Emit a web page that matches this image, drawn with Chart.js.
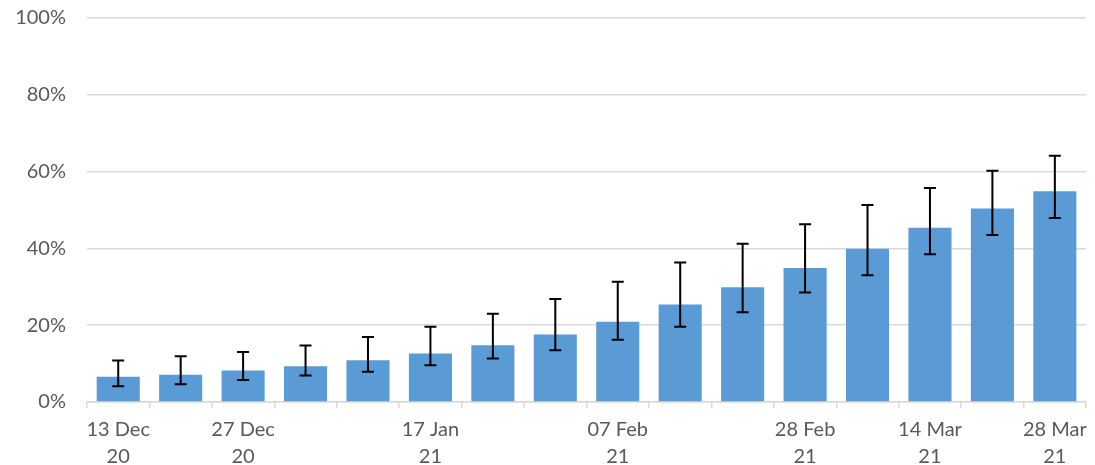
<!DOCTYPE html>
<html lang="en">
<head>
    <meta charset="UTF-8">
    <title>Weekly share</title>
    <script src="https://cdn.jsdelivr.net/npm/chart.js"></script>
    <style>
        html, body { margin: 0; padding: 0; background: #fff; }
        .grafico { width: 1095px; height: 465px; }
    </style>
</head>
<body>
    <div class="grafico">
        <canvas id="myChart" width="1095" height="465"></canvas>
    </div>

<script>
    // weeks (week ending) - only some get a label on the axis
    var semanas = ['13 Dec 20', '20 Dec 20', '27 Dec 20', '03 Jan 21', '10 Jan 21', '17 Jan 21', '24 Jan 21', '31 Jan 21',
        '07 Feb 21', '14 Feb 21', '21 Feb 21', '28 Feb 21', '07 Mar 21', '14 Mar 21', '21 Mar 21', '28 Mar 21'];
    var mostrarRotulo = [0, 2, 5, 8, 11, 13, 15];

    // estimate (%) and 95% interval
    var valores = [6.6, 7.1, 8.2, 9.3, 10.9, 12.6, 14.8, 17.6, 20.9, 25.4, 29.9, 34.9, 39.9, 45.4, 50.4, 54.9];
    var limiteInf = [4.1, 4.6, 5.7, 6.9, 7.9, 9.6, 11.3, 13.5, 16.2, 19.6, 23.4, 28.5, 33.0, 38.5, 43.5, 47.9];
    var limiteSup = [10.8, 11.9, 13.0, 14.7, 16.9, 19.6, 23.0, 26.8, 31.3, 36.3, 41.2, 46.3, 51.3, 55.7, 60.2, 64.1];

    var corTexto = '#595959';
    var corGrade = '#d9d9d9';

    // draws the error bars with the y scale
    const barrasErro = {
        id: 'barrasErro',
        afterDatasetsDraw(chart) {
            const ctx = chart.ctx;
            const y = chart.scales.y;
            const meta = chart.getDatasetMeta(0);
            ctx.save();
            ctx.strokeStyle = '#000';
            ctx.lineWidth = 2;
            meta.data.forEach(function (bar, i) {
                var x = bar.x;
                var yTop = y.getPixelForValue(limiteSup[i]);
                var yBot = y.getPixelForValue(limiteInf[i]);
                ctx.beginPath();
                ctx.moveTo(x, yTop);
                ctx.lineTo(x, yBot);
                ctx.moveTo(x - 6, yTop);
                ctx.lineTo(x + 6, yTop);
                ctx.moveTo(x - 6, yBot);
                ctx.lineTo(x + 6, yBot);
                ctx.stroke();
            });
            ctx.restore();
        }
    };

    let dados = {
        labels: semanas,
        datasets: [{
            data: valores,
            backgroundColor: '#5b9bd5',
            borderWidth: 0,
            barPercentage: 0.69,
            categoryPercentage: 1
        }]
    };

    const config = {
        type: 'bar',
        data: dados,
        plugins: [barrasErro],
        options: {
            responsive: false,
            animation: false,
            layout: { padding: { top: 18, right: 8, left: 0, bottom: 0 } },
            plugins: {
                legend: { display: false },
                tooltip: { enabled: false }
            },
            scales: {
                x: {
                    afterFit: function (scale) { scale.height = 63; },
                    grid: {
                        offset: true,
                        drawOnChartArea: false,
                        drawTicks: true,
                        tickLength: 6,
                        color: corGrade,
                        lineWidth: 1.5
                    },
                    border: { color: corGrade, width: 1.5 },
                    ticks: {
                        autoSkip: false,
                        maxRotation: 0,
                        minRotation: 0,
                        padding: 8,
                        color: corTexto,
                        font: { family: 'Lato', size: 20, lineHeight: 1.35 },
                        callback: function (v, i) {
                            if (mostrarRotulo.indexOf(i) < 0) return '';
                            var p = semanas[i].split(' ');
                            return [p[0] + ' ' + p[1], p[2]];
                        }
                    }
                },
                y: {
                    min: 0,
                    max: 100,
                    afterFit: function (scale) {
                        scale.width = 87;
                        scale.paddingTop = 0;
                        scale.paddingBottom = 0;
                    },
                    grid: { color: corGrade, lineWidth: 1.5, drawTicks: false },
                    border: { display: false },
                    ticks: {
                        stepSize: 20,
                        padding: 21,
                        color: corTexto,
                        font: { family: 'Lato', size: 20 },
                        callback: function (v) { return v + '%'; }
                    }
                }
            }
        }
    };

    let myChart = new Chart(document.getElementById('myChart'), config);
</script>
</body>
</html>
